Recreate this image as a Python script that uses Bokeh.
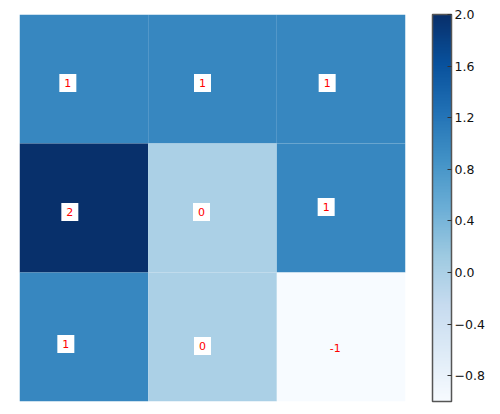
from bokeh.plotting import figure
from bokeh.models import ColumnDataSource, LinearColorMapper, ColorBar, FixedTicker, CustomJSTickFormatter, Range1d
from bokeh.palettes import Blues256
from bokeh.transform import transform
from bokeh.core.properties import value
from bokeh.embed import file_html
from bokeh.resources import INLINE

# data: rows top to bottom
values = [[1, 1, 1],
          [2, 0, 1],
          [1, 0, -1]]
labels = [["1", "1", "1"],
          ["2", "0", "1"],
          ["1", "0", "-1"]]
cbar_ticks = [-0.8, -0.4, 0.0, 0.4, 0.8, 1.2, 1.6, 2.0]
vmin, vmax = -1, 2

# style: pixel offsets of labels (jitter seen in reference)
dx_px = [[-16, -10, -14], [-14, -11, -15], [-18, -10, -6]]
dy_px = [[4, 4, 4], [4, 4, -1], [7, 9, 11]]

xs, ys, vs, ts, ox, oy, bga = [], [], [], [], [], [], []
for r in range(3):
    for c in range(3):
        xs.append(c); ys.append(r); vs.append(values[r][c]); ts.append(labels[r][c])
        ox.append(dx_px[r][c]); oy.append(dy_px[r][c])
        bga.append(0.0 if values[r][c] < 0 else 1.0)
src = ColumnDataSource(dict(x=xs, y=ys, v=vs, t=ts, ox=ox, oy=oy, bga=bga))

mapper = LinearColorMapper(palette=list(Blues256[::-1]), low=vmin, high=vmax)

p = figure(width=500, height=414, output_backend="svg", toolbar_location=None,
           x_range=Range1d(-0.5, 2.5), y_range=Range1d(2.5, -0.5),
           min_border_left=19, min_border_top=14, min_border_bottom=13, min_border_right=95)
p.axis.visible = False
p.grid.visible = False
p.outline_line_color = None
p.background_fill_color = "white"

p.rect(x="x", y="y", width=1, height=1, source=src, fill_color=transform("v", mapper), line_color=None)
p.text(x="x", y="y", text="t", source=src, x_offset="ox", y_offset="oy",
       text_align="center", text_baseline="middle", text_color="red",
       text_font=value("DejaVu Sans"), text_font_size="11px",
       background_fill_color="white", background_fill_alpha="bga", padding=5)

fmt = CustomJSTickFormatter(code="return tick.toFixed(1).replace('-', '\u2212');")
cb = ColorBar(color_mapper=mapper, ticker=FixedTicker(ticks=cbar_ticks), formatter=fmt,
              width=19, padding=0, location=(27, 0), bar_line_color="#555555", bar_line_width=1.5,
              major_tick_line_color="#333333", major_tick_in=4, major_tick_out=0,
              major_label_text_font="DejaVu Sans", major_label_text_font_size="12.5px",
              major_label_text_color="#111111", label_standoff=3,
              background_fill_color=None)
p.add_layout(cb, "right")

open("out.html", "w").write(file_html(p, INLINE))
